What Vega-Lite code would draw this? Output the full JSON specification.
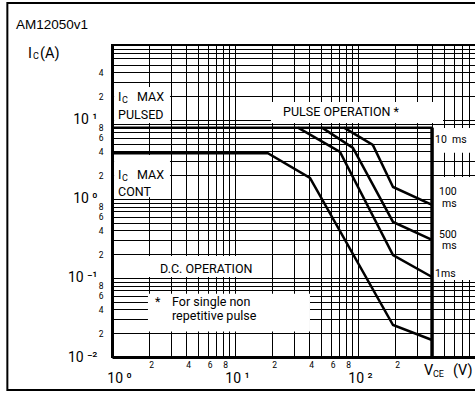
{
  "$schema": "https://vega.github.io/schema/vega-lite/v6.json",
  "autosize": "none",
  "width": 369,
  "height": 312,
  "padding": {"left": 112, "top": 45, "right": 0, "bottom": 36},
  "background": "white",
  "title": {"text": "AM12050v1", "anchor": "start", "frame": "group", "dx": -96, "dy": 43, "offset": 13, "font": "Liberation Sans", "fontSize": 13.5, "fontWeight": "normal", "color": "black"},
  "config": {"view": {"stroke": "black", "strokeWidth": 2}, "font": "Roboto"},
  "datasets": {
    "curves": [
      {"series": "D.C.", "ord": 1, "x": 1, "y": 3.8},
      {"series": "D.C.", "ord": 2, "x": 18.5, "y": 3.8},
      {"series": "D.C.", "ord": 3, "x": 40.7, "y": 1.85},
      {"series": "D.C.", "ord": 4, "x": 192.6, "y": 0.0254},
      {"series": "D.C.", "ord": 5, "x": 400, "y": 0.0164},
      {"series": "1ms", "ord": 1, "x": 32.5, "y": 8},
      {"series": "1ms", "ord": 2, "x": 71.4, "y": 3.94},
      {"series": "1ms", "ord": 3, "x": 192.6, "y": 0.195},
      {"series": "1ms", "ord": 4, "x": 400, "y": 0.103},
      {"series": "500ms", "ord": 1, "x": 51, "y": 8},
      {"series": "500ms", "ord": 2, "x": 91, "y": 4.43},
      {"series": "500ms", "ord": 3, "x": 192.6, "y": 0.512},
      {"series": "500ms", "ord": 4, "x": 400, "y": 0.303},
      {"series": "100ms", "ord": 1, "x": 76.9, "y": 8},
      {"series": "100ms", "ord": 2, "x": 132, "y": 4.83},
      {"series": "100ms", "ord": 3, "x": 192.6, "y": 1.42},
      {"series": "100ms", "ord": 4, "x": 400, "y": 0.84},
      {"series": "10ms", "ord": 1, "x": 1, "y": 8},
      {"series": "10ms", "ord": 2, "x": 400, "y": 8}
    ],
    "limit": [
      {"series": "VCE max", "ord": 1, "x": 400, "y": 8},
      {"series": "VCE max", "ord": 2, "x": 400, "y": 0.01}
    ],
    "frame": [
      {"x": 0.141, "x2": 1585, "y": 303, "y2": 0.00382}
    ],
    "boxes": [
      {"label": "IC MAX PULSED", "x": 1.04, "x2": 2.96, "y": 9.16, "y2": 26.2},
      {"label": "PULSE OPERATION", "x": 19.6, "x2": 491, "y": 9.16, "y2": 16.9},
      {"label": "IC MAX CONT", "x": 1.04, "x2": 2.96, "y": 1.05, "y2": 3.6},
      {"label": "D.C. OPERATION", "x": 1.96, "x2": 19.6, "y": 0.103, "y2": 0.19},
      {"label": "note", "x": 1.96, "x2": 40.7, "y": 0.021, "y2": 0.063},
      {"label": "10 ms", "x": 405, "x2": 1000, "y": 3.85, "y2": 7.9},
      {"label": "pulse times", "x": 405, "x2": 1000, "y": 0.094, "y2": 1.9}
    ],
    "notes": [
      {"t": "I", "x": 1.119, "y": 17.4},
      {"t": "MAX", "x": 1.597, "y": 17.4},
      {"t": "PULSED", "x": 1.119, "y": 10.3},
      {"t": "I", "x": 1.119, "y": 1.79},
      {"t": "MAX", "x": 1.597, "y": 1.79},
      {"t": "CONT", "x": 1.119, "y": 1.09},
      {"t": "PULSE OPERATION *", "x": 24.6, "y": 11.2},
      {"t": "D.C. OPERATION", "x": 2.46, "y": 0.1156},
      {"t": "*", "x": 2.24, "y": 0.0445},
      {"t": "For single non", "x": 3.075, "y": 0.0445},
      {"t": "repetitive pulse", "x": 3.075, "y": 0.0294}
    ],
    "pulse_labels": [
      {"t": "10\u00a0\u00a0ms", "x": 423, "y": 5.12},
      {"t": "100", "x": 456, "y": 1.124},
      {"t": "ms", "x": 482, "y": 0.792},
      {"t": "500", "x": 456, "y": 0.325},
      {"t": "ms", "x": 482, "y": 0.23},
      {"t": "1ms", "x": 423, "y": 0.103}
    ],
    "subscripts": [
      {"t": "C", "x": 1.206, "y": 16.4},
      {"t": "C", "x": 1.206, "y": 1.69},
      {"t": "C", "x": 0.228, "y": 59.2},
      {"t": "CE", "x": 407, "y": 0.00558}
    ],
    "axis_titles": [
      {"t": "I", "x": 0.2075, "y": 61},
      {"t": "(A)", "x": 0.26, "y": 61},
      {"t": "V", "x": 344, "y": 0.00592},
      {"t": "(V)", "x": 592, "y": 0.00592}
    ]
  },
  "encoding": {
    "x": {
      "field": "x", "type": "quantitative", "title": null,
      "scale": {"type": "log", "domain": [1, 1000], "nice": false},
      "axis": {
        "values": [1,2,3,4,5,6,7,8,9,10,20,30,40,50,60,70,80,90,100,200,300,400,500,600,700,800,900,1000],
        "grid": true, "gridColor": "black", "gridWidth": 1, "gridOpacity": 1,
        "ticks": false, "domain": true, "domainColor": "black", "domainWidth": 3,
        "labelExpr": "datum.value == 1 ? '10 ⁰' : datum.value == 10 ? '10 ¹' : datum.value == 100 ? '10 ²' : indexof([2,4,6,8,20,40,60,80,200], datum.value) >= 0 ? format(datum.value / pow(10, floor(log(datum.value) / LN10 + 1e-9)), 'd') : ''",
        "labelFont": "Roboto", "labelColor": "black",
        "labelFontSize": {"condition": {"test": "indexof([1,10,100,1000], datum.value) >= 0", "value": 14}, "value": 8.5},
        "labelPadding": {"condition": {"test": "indexof([1,10,100,1000], datum.value) >= 0", "value": 14}, "value": 3},
        "labelOffset": {"condition": {"test": "datum.value == 1", "value": 7}, "value": 2},
        "labelBaseline": "top", "labelFlush": false, "labelOverlap": false, "labelBound": false,
        "title": null
      }
    },
    "y": {
      "field": "y", "type": "quantitative", "title": null,
      "scale": {"type": "log", "domain": [0.01, 88.9], "nice": false},
      "axis": {
        "values": [0.01,0.02,0.03,0.04,0.05,0.06,0.07,0.08,0.09,0.1,0.2,0.3,0.4,0.5,0.6,0.7,0.8,0.9,1,2,3,4,5,6,7,8,9,10,20,30,40,50,60,70,80],
        "grid": true, "gridColor": "black", "gridWidth": 1, "gridOpacity": 1,
        "ticks": false, "domain": true, "domainColor": "black", "domainWidth": 3,
        "labelExpr": "datum.value == 0.01 ? '10 ⁻²' : datum.value == 0.1 ? '10 ⁻¹' : datum.value == 1 ? '10 ⁰' : datum.value == 10 ? '10 ¹' : indexof([0.02,0.04,0.06,0.08,0.2,0.4,0.6,0.8,2,4,6,8,20,40], datum.value) >= 0 ? format(datum.value / pow(10, floor(log(datum.value) / LN10 + 1e-9)), 'd') : ''",
        "labelFont": "Roboto", "labelColor": "black",
        "labelFontSize": {"condition": {"test": "indexof([0.01,0.1,1,10], datum.value) >= 0", "value": 14}, "value": 8.5},
        "labelPadding": {"condition": {"test": "indexof([0.01,0.1,1,10], datum.value) >= 0", "value": 15}, "value": 9},
        "labelFlush": false, "labelOverlap": false, "labelBound": false,
        "title": null
      }
    }
  },
  "layer": [
    {
      "data": {"name": "boxes"},
      "mark": {"type": "rect", "fill": "white", "strokeWidth": 0},
      "encoding": {"x2": {"field": "x2"}, "y2": {"field": "y2"}}
    },
    {
      "data": {"name": "frame"},
      "mark": {"type": "rect", "fill": "transparent", "stroke": "black", "strokeWidth": 2, "clip": false},
      "encoding": {"x2": {"field": "x2"}, "y2": {"field": "y2"}}
    },
    {
      "data": {"name": "curves"},
      "mark": {"type": "line", "color": "black", "strokeWidth": 2.5},
      "encoding": {"detail": {"field": "series"}, "order": {"field": "ord"}}
    },
    {
      "data": {"name": "limit"},
      "mark": {"type": "line", "color": "black", "strokeWidth": 3.5},
      "encoding": {"detail": {"field": "series"}, "order": {"field": "ord"}}
    },
    {
      "data": {"name": "notes"},
      "mark": {"type": "text", "align": "left", "baseline": "alphabetic", "font": "Roboto", "fontSize": 12.5, "color": "black"},
      "encoding": {"text": {"field": "t"}}
    },
    {
      "data": {"name": "pulse_labels"},
      "mark": {"type": "text", "align": "left", "baseline": "alphabetic", "font": "Roboto", "fontSize": 10.5, "color": "black"},
      "encoding": {"text": {"field": "t"}}
    },
    {
      "data": {"name": "subscripts"},
      "mark": {"type": "text", "align": "left", "baseline": "alphabetic", "font": "Roboto", "fontSize": 9, "color": "black"},
      "encoding": {"text": {"field": "t"}}
    },
    {
      "data": {"name": "axis_titles"},
      "mark": {"type": "text", "align": "left", "baseline": "alphabetic", "font": "Roboto", "fontSize": 14.5, "color": "black"},
      "encoding": {"text": {"field": "t"}}
    }
  ]
}
